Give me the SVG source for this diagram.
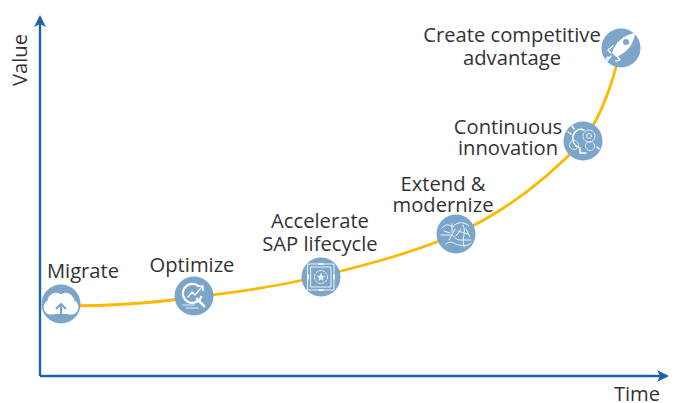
<svg xmlns="http://www.w3.org/2000/svg" width="675" height="403" viewBox="0 0 675 403">
<style>
text{font-family:"Open Sans","Noto Sans","Liberation Sans",sans-serif;font-size:20.2px;fill:#333;text-anchor:middle}
.b{fill:#7ba5c9}
.i{fill:none;stroke:#fff;stroke-width:1.5;stroke-linecap:round;stroke-linejoin:round}
.t{fill:none;stroke:#edf3f8;stroke-width:1;stroke-linecap:round;stroke-linejoin:round}
.axis{fill:none;stroke:#1c64a5;stroke-width:2.4}
</style>
<defs>
<marker id="a" viewBox="0 0 12 12" refX="10" refY="6" markerWidth="12" markerHeight="12" markerUnits="userSpaceOnUse" orient="auto"><path d="M0 0L12 6L0 12L3 6Z" fill="#1c64a5"/></marker>
</defs>
<g id="connectors">
<path d="M40 376V17" class="axis" marker-end="url(#a)"/>
<path d="M40 376H667" class="axis" marker-end="url(#a)"/>
<path d="M61 306C110 306 155 303 194 297C240 292 280 286 321 276C370 264 415 252 456 234C505 212 548 178 583 141C602 115 612 85 621 48" fill="none" stroke="#fcb900" stroke-width="2.800"/>
</g>
<text transform="translate(27 60) rotate(-90)">Value</text>
<text x="637" y="401">Time</text>
<g id="migrate">
<circle class="b" cx="61" cy="304" r="19.500"/>
<path d="M54 314H50C43 314 42 303 48 301C48 294 57 291 61 295C65 291 73 294 74 301C80 303 79 314 72 314H68" fill="#fff" stroke="#fff"/>
<path d="M61 316V305M56 309L61 304L66 309" fill="none" stroke="#7ba5c9" stroke-width="2.200"/>
<text x="83" y="278">Migrate</text>
</g>
<g id="optimize">
<circle class="b" cx="194" cy="296" r="19.500"/>
<path d="M199 286.500A9.500 9.500 0 1 0 201.500 296" fill="none" stroke="#fff" stroke-width="2.200"/>
<path class="i" d="M188 297L192 292L195 295L202 287M198.500 286H203V290.500"/>
<path d="M197 299L204 306" fill="none" stroke="#fff" stroke-width="2.600" stroke-linecap="round"/>
<path class="t" d="M183 305H194M186 308H198"/>
<text x="192" y="272">Optimize</text>
</g>
<g id="accelerate">
<circle class="b" cx="321" cy="277" r="19.500"/>
<rect class="t" x="308" y="264" width="26" height="26"/>
<rect class="t" x="311" y="267" width="20" height="20"/>
<circle class="t" cx="321" cy="277" r="6.500" stroke-dasharray="2 1.500"/>
<path d="M321 272.500L322.200 275.800H325.500L322.800 278L323.800 281.300L321 279.300L318.200 281.300L319.200 278L316.500 275.800H319.800Z" fill="#edf3f8"/>
<path class="i" d="M319 264H323M319 290H323M308 275V279M334 275V279"/>
<text x="320" y="228">Accelerate</text>
<text x="320" y="251">SAP lifecycle</text>
</g>
<g id="extend">
<circle class="b" cx="456" cy="234" r="19.500"/>
<path class="t" d="M442 228C445 223 451 225 453 227C456 222 464 221 469 226M441 235H451C455 235 455 240 459 240H471M446 244C451 239 455 245 459 245C463 245 467 247 471 243M452 224V232M463 225C467 232 461 238 464 247M449 240L455 229M458 231L468 234M444 231L450 233M456 236L461 229M466 229L470 237"/>
<text x="443" y="191">Extend &amp;</text>
<text x="443" y="212">modernize</text>
</g>
<g id="continuous">
<circle class="b" cx="583" cy="141" r="19.500"/>
<path class="i" d="M580 152V148C574 146 572 141 573 136C574 131 579 128 584 130"/>
<circle class="t" cx="589" cy="136" r="6" stroke-width="1.500" stroke-dasharray="2.500 1.200"/>
<circle class="t" cx="589" cy="136" r="2.500"/>
<circle class="t" cx="574" cy="145" r="4.500" stroke-width="1.400" stroke-dasharray="2 1"/>
<circle class="t" cx="590" cy="146" r="4.500" stroke-width="1.400" stroke-dasharray="2 1"/>
<path class="i" d="M580 153H586M568 132L571 134M572 126L574 129M597 147L599 149"/>
<text x="508" y="134">Continuous</text>
<text x="508" y="155">innovation</text>
</g>
<g id="create">
<circle class="b" cx="621" cy="48" r="19.500"/>
<path d="M612 53C615 42 624 35 635 33C634 44 627 53 616 57Z" fill="#fff"/>
<circle cx="626" cy="42" r="3" fill="#7ba5c9"/>
<path class="i" d="M613 46L608 50L611 53M617 56L620 60L616 61M611 56L606 62M608 57L606 59"/>
<text x="512" y="42">Create competitive</text>
<text x="512" y="65">advantage</text>
</g>
</svg>
